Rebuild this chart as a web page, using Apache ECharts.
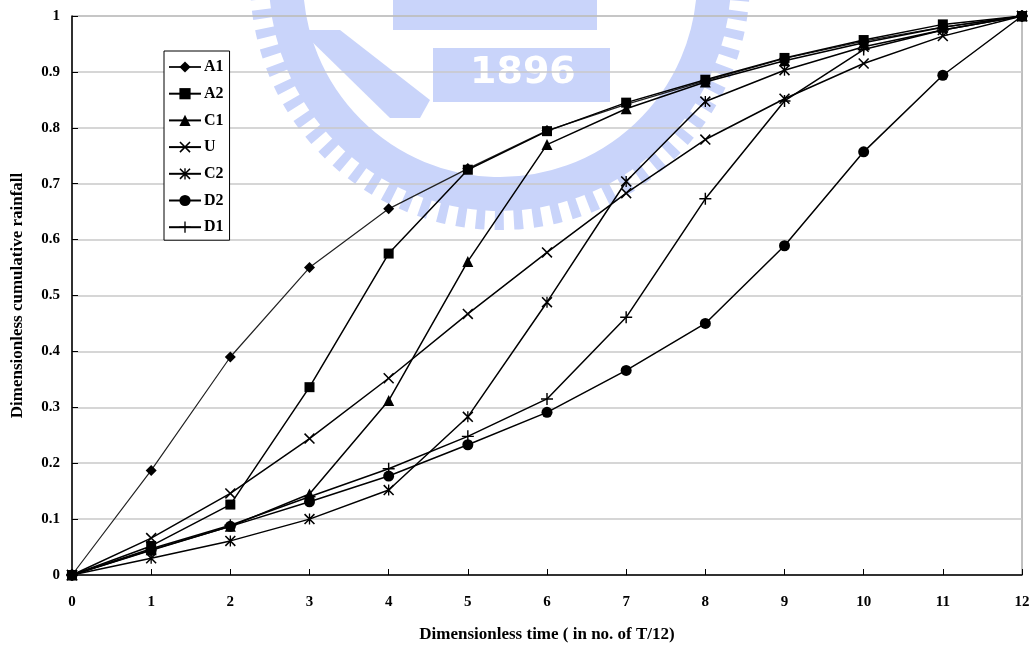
<!DOCTYPE html>
<html>
<head>
<meta charset="utf-8">
<script src="https://cdn.jsdelivr.net/npm/echarts@6/dist/echarts.min.js"></script>
<style>
    html, body { margin: 0; padding: 0; background: #fff; }
    #chart { width: 1036px; height: 645px; }
</style>
</head>
<body>
<div id="chart"></div>
<script>
// 横轴 (T/12)
var xList = [0, 1, 2, 3, 4, 5, 6, 7, 8, 9, 10, 11, 12];
var yTicks = [0, 0.1, 0.2, 0.3, 0.4, 0.5, 0.6, 0.7, 0.8, 0.9, 1];
var nameList = ['A1', 'A2', 'C1', 'U', 'C2', 'D2', 'D1'];

var A1 = [0, 0.187, 0.390, 0.550, 0.655, 0.727, 0.795, 0.842, 0.884, 0.924, 0.955, 0.980, 1];
var A2 = [0, 0.052, 0.126, 0.336, 0.575, 0.725, 0.794, 0.845, 0.886, 0.925, 0.957, 0.985, 1];
var C1 = [0, 0.045, 0.087, 0.145, 0.312, 0.561, 0.770, 0.834, 0.882, 0.920, 0.952, 0.980, 1];
var U = [0, 0.066, 0.146, 0.244, 0.352, 0.467, 0.577, 0.683, 0.779, 0.852, 0.915, 0.964, 1];
var C2 = [0, 0.030, 0.061, 0.100, 0.152, 0.283, 0.488, 0.704, 0.847, 0.903, 0.945, 0.975, 1];
var D2 = [0, 0.044, 0.087, 0.131, 0.177, 0.233, 0.291, 0.366, 0.450, 0.589, 0.757, 0.894, 1];
var D1 = [0, 0.047, 0.089, 0.140, 0.190, 0.248, 0.315, 0.461, 0.673, 0.848, 0.940, 0.975, 1];

var valueList = [A1, A2, C1, U, C2, D2, D1];

// 标记形状
var xMark = 'path://M0,1L1,0L10,9L9,10Z M9,0L10,1L1,10L0,9Z';
var starMark = 'path://M0,1L1,0L10,9L9,10Z M9,0L10,1L1,10L0,9Z M4.4,0H5.6V10H4.4Z';
var plusMark = 'path://M4.4,0H5.6V10H4.4Z M0,4.4H10V5.6H0Z';
var symbolList = ['diamond', 'rect', 'triangle', xMark, starMark, 'circle', plusMark];
var sizeList = [11, 10, 11, 11, 11, 11, 12];

var fontName = '"Liberation Serif", "Times New Roman", serif';
var wmColor = '#c9d4fa';

function pairs(arr) {
    var out = [];
    for (var i = 0; i < xList.length; i++) {
        out.push([xList[i], arr[i]]);
    }
    return out;
}

var seriesList = [];
for (var i = 0; i < nameList.length; i++) {
    seriesList.push({
        name: nameList[i],
        type: 'line',
        data: pairs(valueList[i]),
        symbol: symbolList[i],
        symbolSize: sizeList[i],
        showAllSymbol: true,
        lineStyle: { color: i == 0 ? '#222222' : '#000000', width: i == 0 ? 1.2 : 1.5 },
        itemStyle: { color: '#000000', borderWidth: 0 },
        emphasis: { disabled: true },
        z: 3
    });
}

var myChart = echarts.init(document.getElementById('chart'));
var option = {
    animation: false,
    backgroundColor: '#ffffff',
    grid: {
        left: 72,
        right: 14,
        top: 16,
        bottom: 70,
        outerBoundsMode: 'none',
        containLabel: false,
        show: true,
        borderColor: '#808080',
        borderWidth: 1
    },
    // 背景水印
    graphic: [
        { type: 'arc', silent: true, z: -10,
          shape: { cx: 500, cy: -20, r: 214, startAngle: 0.03, endAngle: Math.PI - 0.03 },
          style: { stroke: wmColor, fill: null, lineWidth: 34 } },
        { type: 'arc', silent: true, z: -10,
          shape: { cx: 500, cy: -20, r: 240, startAngle: 0.05, endAngle: Math.PI - 0.05 },
          style: { stroke: wmColor, fill: null, lineWidth: 20, lineDash: [9, 10] } },
        { type: 'rect', silent: true, z: -10,
          shape: { x: 393, y: 0, width: 204, height: 30 },
          style: { fill: wmColor } },
        { type: 'rect', silent: true, z: -10,
          shape: { x: 433, y: 48, width: 177, height: 54 },
          style: { fill: wmColor } },
        { type: 'polygon', silent: true, z: -10,
          shape: { points: [[300, 30], [340, 30], [430, 100], [420, 118], [390, 118]] },
          style: { fill: wmColor } },
        { type: 'text', silent: true, z: -9, left: 470, top: 54,
          style: { text: '1896', fill: '#ffffff', font: 'bold 38px "DejaVu Sans", sans-serif' } }
    ],
    legend: {
        orient: 'vertical',
        left: 164,
        top: 51,
        itemWidth: 32,
        itemHeight: 14,
        itemGap: 10.7,
        padding: [8, 6, 5, 4],
        borderColor: '#000000',
        borderWidth: 1,
        backgroundColor: '#ffffff',
        data: nameList,
        textStyle: {
            fontFamily: fontName,
            fontWeight: 'bold',
            fontSize: 16,
            color: '#000000',
            padding: [0, 0, 0, -2]
        }
    },
    xAxis: {
        type: 'value',
        min: 0,
        max: 12,
        interval: 1,
        name: 'Dimensionless time ( in no. of T/12)',
        nameLocation: 'middle',
        nameGap: 51,
        nameTextStyle: { fontFamily: fontName, fontWeight: 'bold', fontSize: 17, color: '#000000' },
        axisLine: { lineStyle: { color: '#000000', width: 1.5 } },
        axisTick: { inside: true, length: 6, lineStyle: { color: '#000000' } },
        axisLabel: {
            margin: 20,
            fontFamily: fontName,
            fontWeight: 'bold',
            fontSize: 15,
            color: '#000000'
        },
        splitLine: { show: false }
    },
    yAxis: {
        type: 'value',
        min: 0,
        max: 1,
        interval: 0.1,
        name: 'Dimensionless cumulative rainfall',
        nameLocation: 'middle',
        nameGap: 46,
        nameTextStyle: { fontFamily: fontName, fontWeight: 'bold', fontSize: 17, color: '#000000' },
        axisLine: { show: true, lineStyle: { color: '#000000', width: 1.5 } },
        axisTick: { show: true, inside: true, length: 6, lineStyle: { color: '#000000' } },
        axisLabel: {
            margin: 12,
            fontFamily: fontName,
            fontWeight: 'bold',
            fontSize: 15,
            color: '#000000',
            formatter: function(v) {
                return String(parseFloat(v.toFixed(1)));
            }
        },
        splitLine: { lineStyle: { color: '#c8c8c8', width: 1.5 } }
    },
    series: seriesList
};
myChart.setOption(option);
</script>
</body>
</html>
